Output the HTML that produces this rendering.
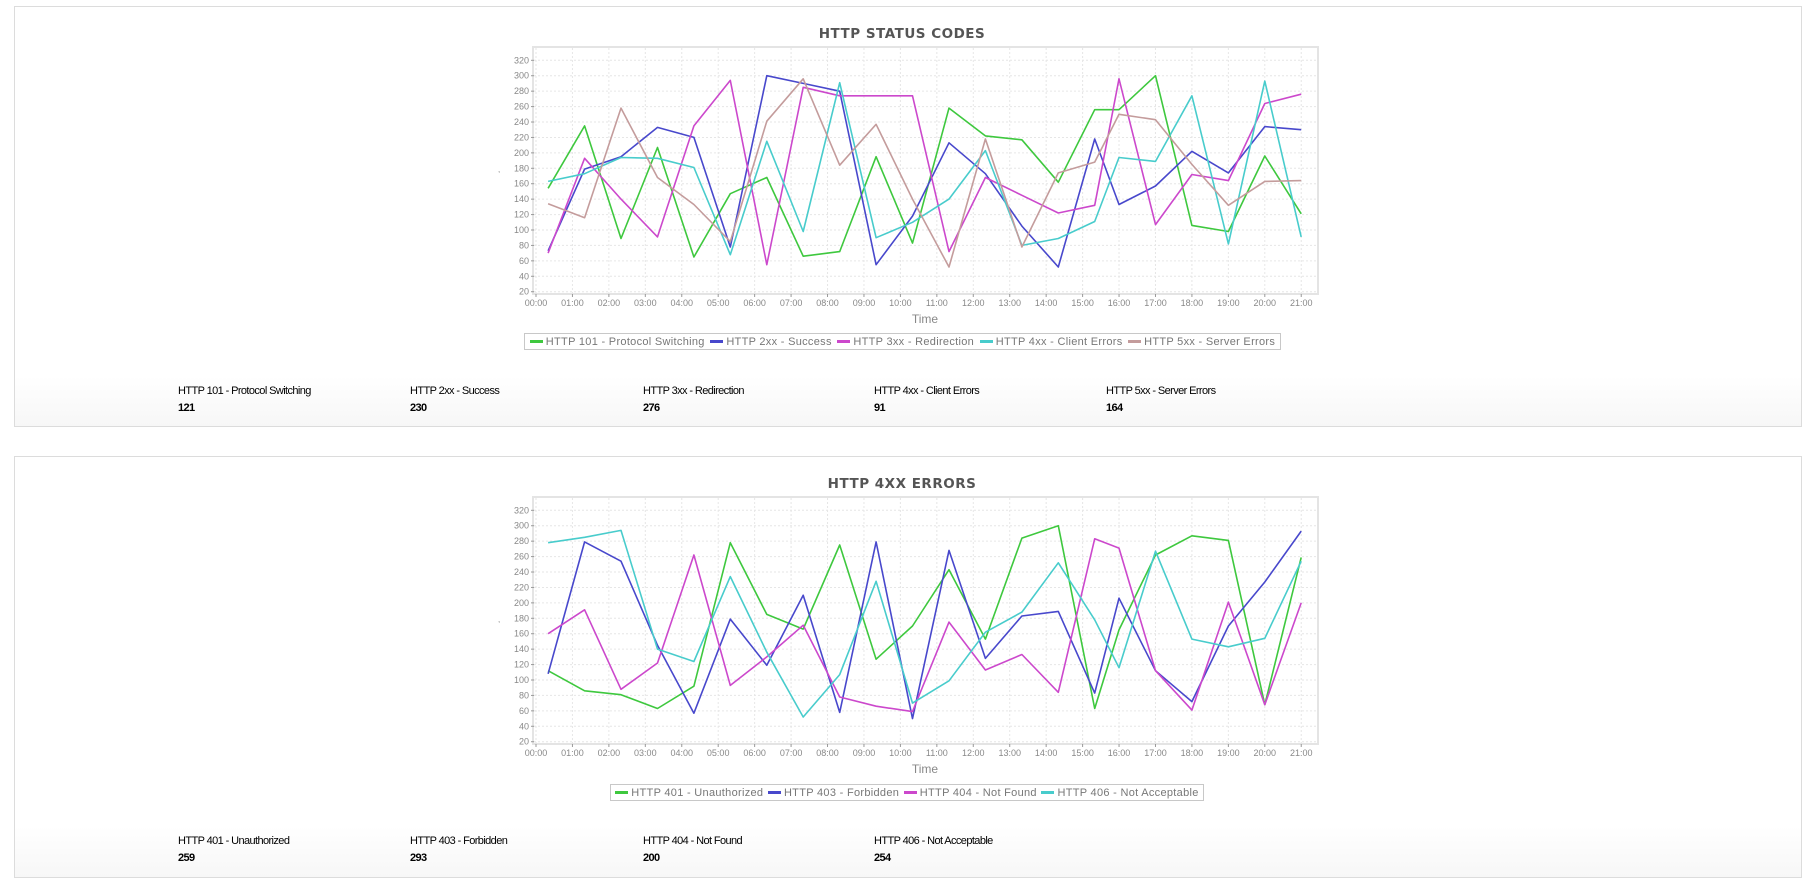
<!DOCTYPE html>
<html><head><meta charset="utf-8">
<style>
html,body{margin:0;padding:0;background:#fff;width:1807px;height:881px;overflow:hidden;font-family:"Liberation Sans",sans-serif;}
.panel{position:absolute;left:14px;width:1786px;border:1px solid #dcdcdc;background:linear-gradient(#fff 88%,#f7f7f7);}
.legend{position:absolute;border:1px solid #c8c8c8;height:17px;display:flex;align-items:center;justify-content:space-around;font-size:11px;color:#777;background:#fff;padding:0 2px;box-sizing:border-box;letter-spacing:0.3px}
.legend span{display:inline-flex;align-items:center;white-space:nowrap}
.legend i{display:inline-block;width:13px;height:3px;margin-right:3px}
.stat{position:absolute;font-size:11px;color:#000;letter-spacing:-0.6px;line-height:14px}
.stat b{font-weight:bold;display:block;margin-top:3px}
svg{position:absolute;left:0;top:0}
</style></head><body>
<div class="panel" style="top:6px;height:419px"></div>
<div class="panel" style="top:456px;height:420px"></div>

<svg id="s" width="1807" height="881" xmlns="http://www.w3.org/2000/svg"></svg>

<div class="legend" style="left:524px;top:333px;width:757px">
<span><i style="background:#3ec83e"></i>HTTP 101 - Protocol Switching</span>
<span><i style="background:#4848cc"></i>HTTP 2xx - Success</span>
<span><i style="background:#cc48cc"></i>HTTP 3xx - Redirection</span>
<span><i style="background:#48cccc"></i>HTTP 4xx - Client Errors</span>
<span><i style="background:#c49c9c"></i>HTTP 5xx - Server Errors</span>
</div>
<div class="legend" style="left:610px;top:784px;width:594px">
<span><i style="background:#3ec83e"></i>HTTP 401 - Unauthorized</span>
<span><i style="background:#4848cc"></i>HTTP 403 - Forbidden</span>
<span><i style="background:#cc48cc"></i>HTTP 404 - Not Found</span>
<span><i style="background:#48cccc"></i>HTTP 406 - Not Acceptable</span>
</div>

<div class="stat" style="left:178px;top:384px">HTTP 101 - Protocol Switching<b>121</b></div>
<div class="stat" style="left:410px;top:384px">HTTP 2xx - Success<b>230</b></div>
<div class="stat" style="left:643px;top:384px">HTTP 3xx - Redirection<b>276</b></div>
<div class="stat" style="left:874px;top:384px">HTTP 4xx - Client Errors<b>91</b></div>
<div class="stat" style="left:1106px;top:384px">HTTP 5xx - Server Errors<b>164</b></div>

<div class="stat" style="left:178px;top:834px">HTTP 401 - Unauthorized<b>259</b></div>
<div class="stat" style="left:410px;top:834px">HTTP 403 - Forbidden<b>293</b></div>
<div class="stat" style="left:643px;top:834px">HTTP 404 - Not Found<b>200</b></div>
<div class="stat" style="left:874px;top:834px">HTTP 406 - Not Acceptable<b>254</b></div>

<script>
var NS="http://www.w3.org/2000/svg",s=document.getElementById("s");
function el(t,a,txt){var e=document.createElementNS(NS,t);for(var k in a)e.setAttribute(k,a[k]);if(txt!=null)e.textContent=txt;s.appendChild(e);return e;}
var xs=[];for(var i=0;i<16;i++)xs.push(i+0.333);for(var h=16;h<=21;h++)xs.push(h);
function X(h){return 536+h*36.44;}
function chart(oy,title,series){
  function Y(v){return oy+291.7-(v-20)*0.7713;}
  el("text",{x:902,y:oy+38,"text-anchor":"middle","font-size":"13.5","font-weight":"bold",fill:"#555","font-family":"DejaVu Sans, sans-serif","letter-spacing":"0.5"},title);
  el("rect",{x:533,y:oy+47,width:785,height:247,fill:"#fff",stroke:"#e4e4e4","stroke-width":2});
  for(var v=20;v<=320;v+=20){el("line",{x1:534,x2:1317,y1:Y(v),y2:Y(v),stroke:"#e6e6e6","stroke-dasharray":"2,2"});
    el("line",{x1:531,x2:534,y1:Y(v),y2:Y(v),stroke:"#999"});
    el("text",{x:529,y:Y(v)+3,"text-anchor":"end","font-size":"9",fill:"#888"},v);}
  for(var h=0;h<=21;h++){el("line",{x1:X(h),x2:X(h),y1:oy+48,y2:oy+293,stroke:"#e6e6e6","stroke-dasharray":"2,2"});
    el("line",{x1:X(h),x2:X(h),y1:oy+294,y2:oy+297,stroke:"#999"});
    el("text",{x:X(h),y:oy+306,"text-anchor":"middle","font-size":"9",fill:"#888"},(h<10?"0":"")+h+":00");}
  el("text",{x:925,y:oy+323,"text-anchor":"middle","font-size":"12",fill:"#888"},"Time");
  el("text",{x:498,y:oy+172,"font-size":"8",fill:"#888"},",");
  series.forEach(function(sr){var p=sr[1].map(function(v,i){return X(xs[i]).toFixed(1)+","+Y(v).toFixed(1)}).join(" ");
    el("polyline",{points:p,fill:"none",stroke:sr[0],"stroke-width":1.6,"stroke-linejoin":"round"});});
}
chart(0,"HTTP STATUS CODES",[
["#3ec83e",[154,235,89,207,65,147,168,66,72,195,83,258,222,217,162,256,256,300,106,98,196,121]],
["#4848cc",[73,179,195,233,220,78,300,290,280,55,118,213,173,105,52,218,133,157,202,174,234,230]],
["#cc48cc",[70,193,140,91,235,294,55,285,274,274,274,72,168,145,122,132,296,107,172,164,264,276]],
["#48cccc",[163,173,194,193,181,68,215,98,291,90,110,140,203,80,89,111,194,189,274,82,293,91]],
["#c49c9c",[134,116,258,168,133,85,241,296,184,237,140,52,218,78,174,188,250,243,185,132,163,164]]
]);
chart(450,"HTTP 4XX ERRORS",[
["#3ec83e",[112,86,81,63,92,278,185,166,275,127,170,243,153,284,300,63,165,262,287,281,68,259]],
["#4848cc",[108,279,254,145,57,179,119,210,58,279,50,268,128,183,189,83,206,112,72,170,227,293]],
["#cc48cc",[160,191,88,122,262,93,130,171,78,66,59,175,113,133,84,283,271,112,61,201,68,200]],
["#48cccc",[278,285,294,140,124,234,136,52,107,228,70,99,162,188,252,178,116,267,153,143,154,254]]
]);
</script>
</body></html>
